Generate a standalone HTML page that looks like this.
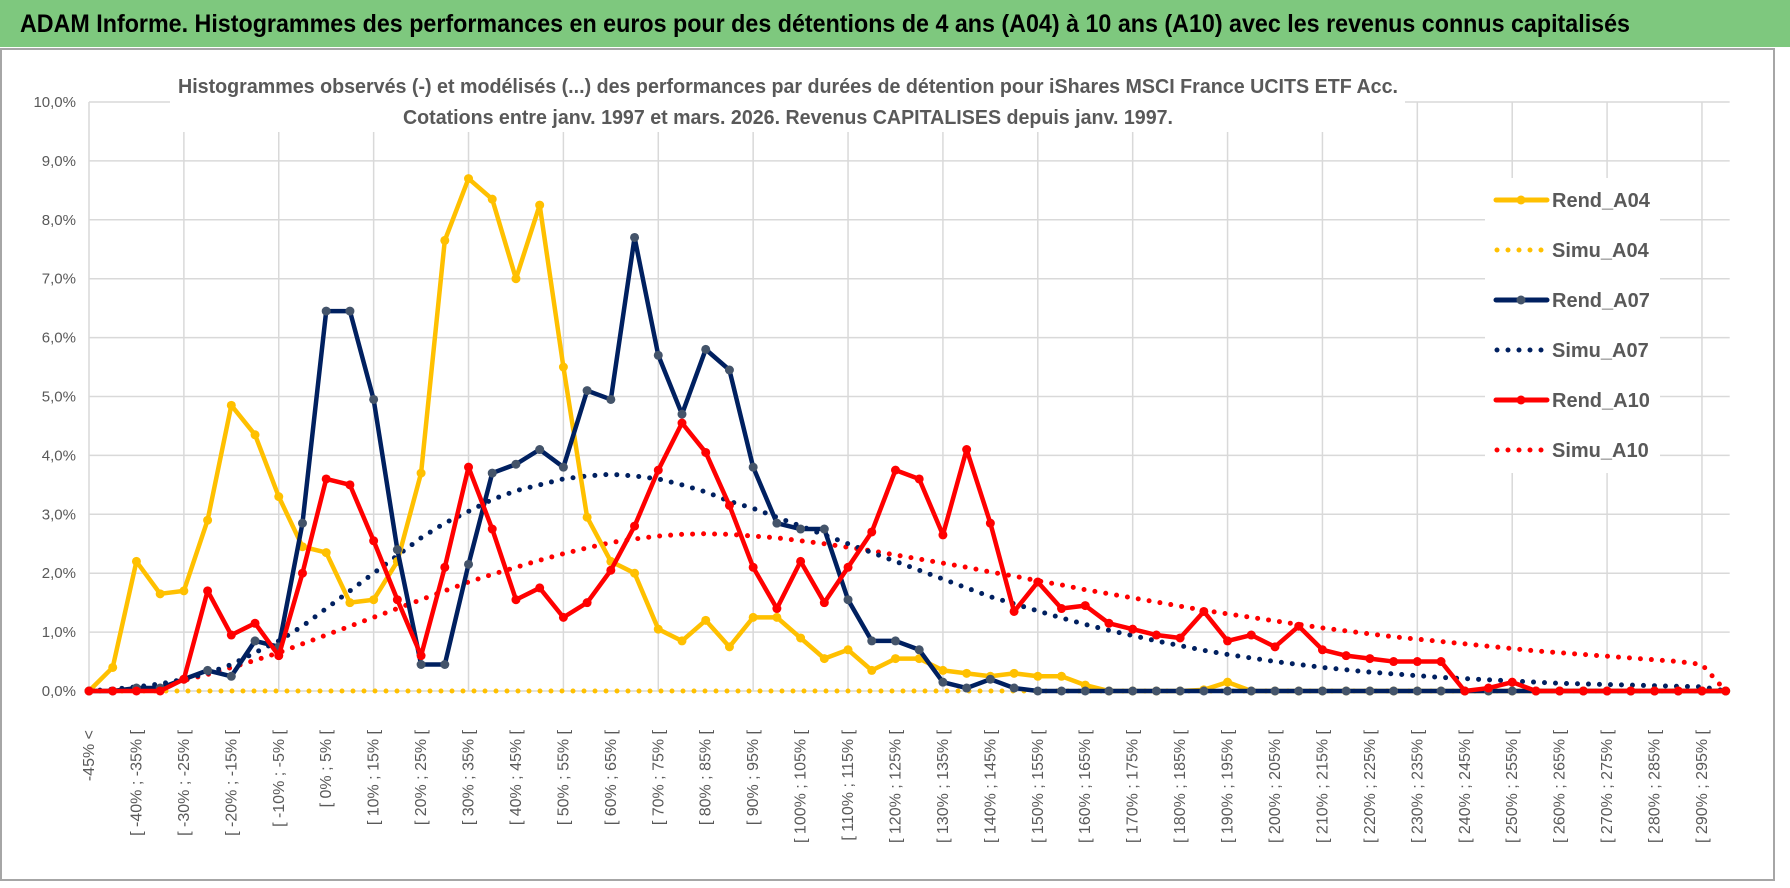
<!DOCTYPE html>
<html><head><meta charset="utf-8">
<style>
html,body{margin:0;padding:0;background:#fff;}
svg{display:block;}
text{font-family:"Liberation Sans Narrow","Liberation Sans",sans-serif;}
</style></head>
<body>
<svg id="chart" width="1790" height="888" viewBox="0 0 1790 888" xmlns="http://www.w3.org/2000/svg">
<rect x="0" y="0" width="1790" height="888" fill="#fff"/>
<rect x="0" y="0" width="1790" height="47" fill="#7ec87e"/>
<text x="20" y="32" font-size="25" font-weight="bold" fill="#000" textLength="1610" lengthAdjust="spacingAndGlyphs">ADAM Informe. Histogrammes des performances en euros pour des détentions de 4 ans (A04) à 10 ans (A10) avec les revenus connus capitalisés</text>
<rect x="1" y="49" width="1773" height="831" fill="none" stroke="#a6a6a6" stroke-width="2"/>
<g id="grid"></g>
<g id="yticks"></g>
<g id="xticks"></g>
<g id="series"></g>
<rect x="170" y="68" width="1235" height="64" fill="#fff"/>
<text x="788" y="93" font-size="20" font-weight="bold" fill="#595959" text-anchor="middle" textLength="1220" lengthAdjust="spacingAndGlyphs">Histogrammes observés (-) et modélisés (...) des performances par durées de détention pour iShares MSCI France UCITS ETF Acc.</text>
<text x="788" y="124" font-size="20" font-weight="bold" fill="#595959" text-anchor="middle" textLength="770" lengthAdjust="spacingAndGlyphs">Cotations entre janv. 1997 et mars. 2026. Revenus CAPITALISES depuis janv. 1997.</text>
<g id="legend"></g>
</svg>
<script>
const categories = ["-45% <"];
for (let v = -45; v < 300; v += 5) categories.push("[ " + v + "% ; " + (v + 5) + "% [");
const rendA04 = [0,0.4,2.2,1.65,1.7,2.9,4.85,4.35,3.3,2.45,2.35,1.5,1.55,2.2,3.7,7.65,8.7,8.35,7.0,8.25,5.5,2.95,2.2,2.0,1.05,0.85,1.2,0.75,1.25,1.25,0.9,0.55,0.7,0.35,0.55,0.55,0.35,0.3,0.25,0.3,0.25,0.25,0.1,0,0,0,0,0.02,0.15,0,0,0,0,0,0,0,0,0,0,0,0,0,0,0,0,0,0,0,0,0];
const simuA04 = [0,0,0,0,0,0,0,0,0,0,0,0,0,0,0,0,0,0,0,0,0,0,0,0,0,0,0,0,0,0,0,0,0,0,0,0,0,0,0,0,0,0,0,0,0,0,0,0,0,0,0,0,0,0,0,0,0,0,0,0,0,0,0,0,0,0,0,0,0,0];
const rendA07 = [0,0,0.05,0.05,0.2,0.35,0.25,0.85,0.75,2.85,6.45,6.45,4.95,2.4,0.45,0.45,2.15,3.7,3.85,4.1,3.8,5.1,4.95,7.7,5.7,4.7,5.8,5.45,3.8,2.85,2.75,2.75,1.55,0.85,0.85,0.7,0.15,0.05,0.2,0.05,0,0,0,0,0,0,0,0,0,0,0,0,0,0,0,0,0,0,0,0,0,0,0,0,0,0,0,0,0,0];
const simuA07 = [0,0.03,0.07,0.12,0.2,0.3,0.45,0.65,0.85,1.1,1.4,1.7,2.0,2.3,2.6,2.85,3.05,3.25,3.4,3.5,3.6,3.65,3.68,3.65,3.6,3.5,3.38,3.22,3.1,2.95,2.8,2.65,2.5,2.35,2.2,2.05,1.9,1.75,1.6,1.48,1.36,1.24,1.13,1.03,0.94,0.85,0.77,0.69,0.62,0.56,0.5,0.45,0.4,0.36,0.32,0.29,0.26,0.23,0.21,0.19,0.17,0.15,0.13,0.12,0.11,0.1,0.09,0.08,0.07,0];
const rendA10 = [0,0,0,0,0.2,1.7,0.95,1.15,0.6,2.0,3.6,3.5,2.55,1.55,0.6,2.1,3.8,2.75,1.55,1.75,1.25,1.5,2.05,2.8,3.75,4.55,4.05,3.15,2.1,1.4,2.2,1.5,2.1,2.7,3.75,3.6,2.65,4.1,2.85,1.35,1.85,1.4,1.45,1.15,1.05,0.95,0.9,1.35,0.85,0.95,0.75,1.1,0.7,0.6,0.55,0.5,0.5,0.5,0,0.05,0.15,0,0,0,0,0,0,0,0,0];
const simuA10 = [0,0.02,0.05,0.1,0.18,0.28,0.4,0.52,0.65,0.8,0.95,1.1,1.25,1.4,1.55,1.7,1.85,1.98,2.1,2.22,2.33,2.43,2.52,2.58,2.63,2.66,2.67,2.66,2.63,2.6,2.55,2.5,2.44,2.38,2.31,2.24,2.17,2.1,2.02,1.95,1.87,1.8,1.72,1.65,1.58,1.51,1.44,1.37,1.31,1.25,1.19,1.13,1.07,1.02,0.97,0.92,0.88,0.84,0.8,0.76,0.72,0.68,0.65,0.62,0.59,0.56,0.53,0.5,0.45,0];
const yTicks = ["0,0%","1,0%","2,0%","3,0%","4,0%","5,0%","6,0%","7,0%","8,0%","9,0%","10,0%"];

const NS = "http://www.w3.org/2000/svg";
const X0 = 89, DX = 23.72, Y0 = 691, PY = 58.9;
function xs(i){ return X0 + i * DX; }
function ys(v){ return Y0 - v * PY; }
function mk(tag, attrs, parent){ const e = document.createElementNS(NS, tag); for (const k in attrs) e.setAttribute(k, attrs[k]); parent.appendChild(e); return e; }

const grid = document.getElementById("grid");
const xEnd = xs(categories.length - 1) + 4;
yTicks.forEach((t, i) => {
  const l = mk("line", {x1: X0, x2: xEnd, y1: ys(i), y2: ys(i), stroke: "#d9d9d9", "stroke-width": 1.5}, grid);
  
  
  const tx = mk("text", {x: 76, y: ys(i) + 5, "font-size": 15, fill: "#595959", "text-anchor": "end"}, document.getElementById("yticks"));
  tx.textContent = t;
  
  
});
for (let i = 0; i < categories.length; i += 4) {
  const l = mk("line", {x1: xs(i), x2: xs(i), y1: ys(0), y2: ys(10), stroke: "#d9d9d9", "stroke-width": 1.5}, grid);
  
  
}
const xt = document.getElementById("xticks");
for (let i = 0; i < categories.length; i += 2) {
  const x = xs(i) + 5, y = 730;
  const tx = mk("text", {x: x, y: y, "font-size": 16, fill: "#595959", "text-anchor": "end", transform: "rotate(-90 " + x + " " + y + ")"}, xt);
  tx.textContent = categories[i];
  
  
}

const S = document.getElementById("series");
function dotted(data, color, name){
  const p = mk("polyline", {points: data.map((v,i)=>xs(i)+","+ys(v)).join(" "), fill: "none", stroke: color, "stroke-width": 5, "stroke-linecap": "round", "stroke-dasharray": "0 11"}, S);
  
  
}
function solid(data, color, mcolor, name){
  const g = mk("g", {}, S);
  
  
  const p = mk("polyline", {points: data.map((v,i)=>xs(i)+","+ys(v)).join(" "), fill: "none", stroke: color, "stroke-width": 4.5, "stroke-linejoin": "round"}, g);
  
  
  data.forEach((v,i)=>{
    const c = mk("circle", {cx: xs(i), cy: ys(v), r: 4.5, fill: mcolor}, g);
    
    
  });
}
dotted(simuA04, "#ffc000", "simu-a04-line");
dotted(simuA10, "#ff0000", "simu-a10-line");
dotted(simuA07, "#002060", "simu-a07-line");
solid(rendA04, "#ffc000", "#ffc000", "rend-a04");
solid(rendA07, "#002060", "#44546a", "rend-a07");
solid(rendA10, "#ff0000", "#ff0000", "rend-a10");

const L = document.getElementById("legend");
mk("rect", {x: 1485, y: 178, width: 175, height: 295, fill: "#fff"}, L);
const leg = [["Rend_A04","#ffc000","#ffc000",false],["Simu_A04","#ffc000",null,true],["Rend_A07","#002060","#44546a",false],["Simu_A07","#002060",null,true],["Rend_A10","#ff0000","#ff0000",false],["Simu_A10","#ff0000",null,true]];
leg.forEach((d, i) => {
  const y = 200 + i * 50;
  const g = mk("g", {}, L);
  
  
  if (d[3]) {
    mk("line", {x1: 1497, x2: 1543, y1: y, y2: y, stroke: d[1], "stroke-width": 5, "stroke-linecap": "round", "stroke-dasharray": "0 11"}, g);
  } else {
    mk("line", {x1: 1496, x2: 1547, y1: y, y2: y, stroke: d[1], "stroke-width": 5, "stroke-linecap": "round"}, g);
    mk("circle", {cx: 1521, cy: y, r: 4.5, fill: d[2]}, g);
  }
  const t = mk("text", {x: 1552, y: y + 7, "font-size": 20, "font-weight": "bold", fill: "#595959"}, g);
  t.textContent = d[0];
});
</script>
</body></html>
